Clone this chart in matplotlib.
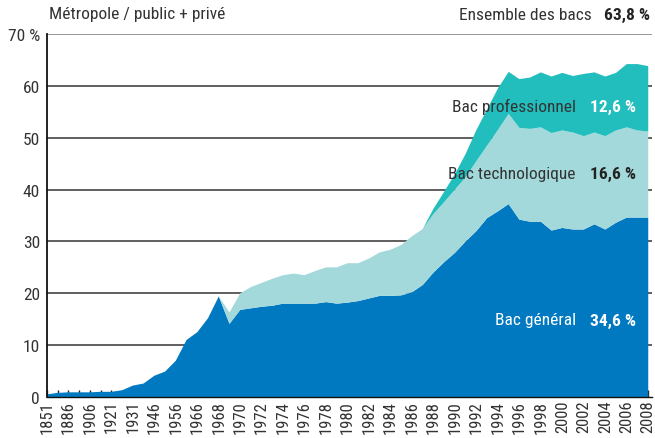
import matplotlib
matplotlib.use("Agg")
import matplotlib.pyplot as plt
from matplotlib import font_manager as fm
import numpy as np

names = {f.name for f in fm.fontManager.ttflist}
FONT = next((n for n in ["Roboto Condensed", "Archivo Narrow", "PT Sans Narrow", "Liberation Sans Narrow"] if n in names), "DejaVu Sans")
plt.rcParams['font.family'] = [FONT, 'DejaVu Sans']

years = ['1851', '1881', '1886', '1896', '1906', '1911', '1921', '1926', '1931', '1936',
         '1946', '1951', '1956', '1961', '1966', '1967', '1968', '1969'] + [str(y) for y in range(1970, 2009)]

general = [0.5, 0.8, 0.9, 0.9, 0.9, 1.0, 1.0, 1.3, 2.2, 2.6,
           4.1, 4.9, 7.0, 11.0, 12.5, 15.2, 19.4, 14.1,
           16.8, 17.1, 17.4, 17.6, 18.0, 18.0, 18.0, 18.0, 18.3, 18.0,
           18.2, 18.5, 19.0, 19.5, 19.5, 19.6, 20.2, 21.6, 24.0, 26.0,
           27.8, 30.0, 32.0, 34.5, 35.8, 37.2, 34.2, 33.8, 33.8, 32.1,
           32.6, 32.3, 32.3, 33.3, 32.3, 33.6, 34.6, 34.6, 34.6]

technologique = [0.0] * 17 + [
           2.2, 3.2, 4.1, 4.6, 5.2, 5.5, 5.8, 5.5, 6.3, 6.7, 7.0,
           7.6, 7.3, 7.7, 8.4, 8.9, 9.7, 10.8, 10.8, 11.3, 11.6,
           12.2, 12.4, 13.5, 14.0, 15.7, 17.4, 17.7, 17.9, 18.2, 18.8,
           18.8, 18.7, 18.0, 17.7, 18.0, 17.8, 17.4, 16.8, 16.6]

professionnel = [0.0] * 35 + [
           0.0, 1.0, 2.0, 3.0, 4.5, 6.0, 7.0, 8.0, 8.1, 9.4, 9.9, 10.6, 10.9,
           11.1, 10.9, 12.0, 11.6, 11.5, 11.1, 12.2, 12.8, 12.6]

yticks = [0, 10, 20, 30, 40, 50, 60, 70]
ytick_labels = ['0', '10', '20', '30', '40', '50', '60', '70 %']

C_GEN = '#0079C1'
C_TECH = '#A3D9DB'
C_PRO = '#22BDBD'
TXT = '#333333'

fig = plt.figure(figsize=(6.55, 4.39), dpi=100)
ax = fig.add_axes([47/655, 41/439, 605/655, 363/439])

x = np.arange(len(years))
ax.stackplot(x, general, technologique, professionnel, colors=[C_GEN, C_TECH, C_PRO],
             linewidth=0, zorder=2)

ax.set_xlim(0, len(years) - 1 + 0.35)
ax.set_ylim(0, 70)

for v in yticks[1:-1]:
    ax.axhline(v, color='#444444', lw=1.2, zorder=1)
ax.axhline(70, color='#888888', lw=1.2, zorder=1)

ax.set_yticks(yticks)
ax.set_yticklabels(ytick_labels)
ax.set_xticks(x)
ax.set_xticklabels([y if i % 2 == 0 else '' for i, y in enumerate(years)], rotation=90)
ax.tick_params(axis='x', direction='in', length=5, width=1.0, color='#222222',
               labelsize=12, labelcolor=TXT, pad=2)
ax.tick_params(axis='y', direction='in', length=0, labelsize=12.5, labelcolor=TXT, pad=5)
for t in ax.get_xticklines():
    t.set_zorder(5)

for s in ['top', 'right']:
    ax.spines[s].set_visible(False)
ax.spines['left'].set_color('#111111')
ax.spines['left'].set_linewidth(1.3)
ax.spines['bottom'].set_color('#111111')
ax.spines['bottom'].set_linewidth(1.0)
ax.spines['left'].set_zorder(6)
ax.spines['bottom'].set_zorder(6)

fs = 12.5
fig.text(49/655, 1 - 15/439, 'Métropole / public + privé', fontsize=fs, color=TXT,
         ha='left', va='center')
fig.text(592/655, 1 - 15/439, 'Ensemble des bacs', fontsize=fs, color=TXT, ha='right', va='center')
fig.text(650/655, 1 - 15/439, '63,8 %', fontsize=fs, color='#222222', ha='right', va='center', fontweight='bold')

def label(y, name, val, cname, cval):
    fig.text(576/655, 1 - y/439, name, fontsize=fs, color=cname, ha='right', va='center')
    fig.text(636/655, 1 - y/439, val, fontsize=fs, color=cval, ha='right', va='center', fontweight='bold')

label(107, 'Bac professionnel', '12,6 %', TXT, 'white')
label(174, 'Bac technologique', '16,6 %', TXT, '#222222')
label(321, 'Bac général', '34,6 %', 'white', 'white')

fig.savefig('out.png', dpi=100)
